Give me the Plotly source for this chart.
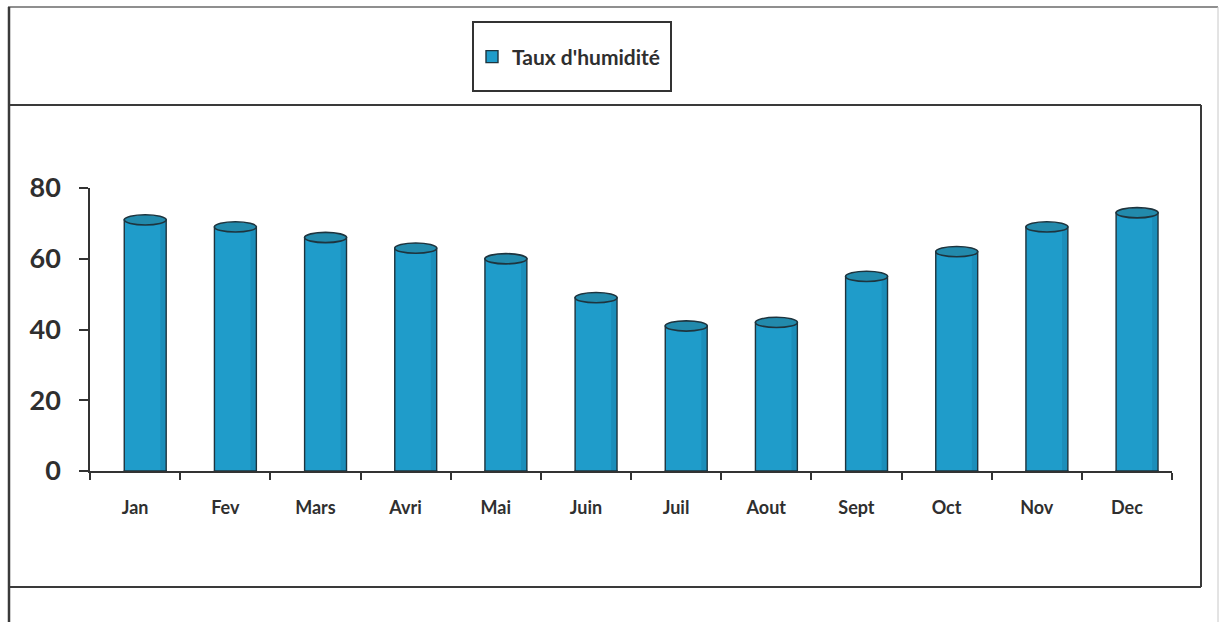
import plotly.graph_objects as go

# Monthly humidity rate (%)
months = ["Jan", "Fev", "Mars", "Avri", "Mai", "Juin", "Juil", "Aout", "Sept", "Oct", "Nov", "Dec"]
humidity = [71, 69, 66, 63, 60, 49, 41, 42, 55, 62, 69, 73]
y_ticks = [0, 20, 40, 60, 80]
series_name = "Taux d'humidité"

W, H = 1220, 622
BAR_W = 0.465          # cylinder width, in category units
BAR_OFF = -0.12        # cylinder shifted right of the category centre (3-D look)
CAP_H = 1.45           # half height of the top ellipse, in axis units
BASE_H = 0.9           # half height of the base ellipse

BODY = "rgb(31,156,202)"
CAP = "rgb(34,138,172)"
EDGE = "rgb(30,52,62)"
INK = "#2f2f2f"
FONT = "Lato"


def px(x):
    return x / W


def py(y):
    return 1 - y / H


fig = go.Figure()
# cylinder bodies
fig.add_trace(go.Bar(
    x=months, y=humidity, name=series_name,
    width=BAR_W, offset=BAR_OFF,
    marker=dict(color=BODY, line=dict(color=EDGE, width=1.4)),
    showlegend=True, cliponaxis=False,
))
# darker shading along the right side of each cylinder
fig.add_trace(go.Bar(
    x=months, y=humidity, name="shade",
    width=0.06, offset=BAR_OFF + BAR_W - 0.065,
    marker=dict(color="rgba(10,60,90,0.14)", line=dict(width=0)),
    showlegend=False, hoverinfo="skip", cliponaxis=False,
))

shapes = []
for i, v in enumerate(humidity):
    # rounded base under each cylinder
    shapes.append(dict(
        type="circle", xref="x", yref="y", layer="below",
        x0=i + BAR_OFF, x1=i + BAR_OFF + BAR_W,
        y0=-BASE_H, y1=BASE_H,
        fillcolor=BODY, line=dict(color=EDGE, width=1.4),
    ))
    # elliptical cap on top
    shapes.append(dict(
        type="circle", xref="x", yref="y", layer="above",
        x0=i + BAR_OFF, x1=i + BAR_OFF + BAR_W,
        y0=v - CAP_H, y1=v + CAP_H,
        fillcolor=CAP, line=dict(color=EDGE, width=1.6),
    ))


def seg(x0, y0, x1, y1, color="#3a3a3a", width=2):
    return dict(type="line", xref="paper", yref="paper", layer="above",
                x0=px(x0), y0=py(y0), x1=px(x1), y1=py(y1),
                line=dict(color=color, width=width))


# outer frame and chart-area box
shapes += [
    seg(8, 7, 1218, 7, "#6a6a6a", 1.5),
    seg(9, 7, 9, 622, "#3a3a3a", 2.5),
    seg(1218, 7, 1218, 622, "#c8c8c8", 1),
    seg(9, 105, 1201, 105),
    seg(1201, 105, 1201, 587),
    seg(9, 587, 1201, 587),
]
# legend box
shapes.append(dict(type="rect", xref="paper", yref="paper", layer="above",
                   x0=px(473), x1=px(671), y0=py(91), y1=py(22),
                   line=dict(color="#333333", width=2), fillcolor="rgba(0,0,0,0)"))

fig.update_layout(
    width=W, height=H,
    margin=dict(l=0, r=0, t=0, b=0, autoexpand=False),
    paper_bgcolor="white", plot_bgcolor="white",
    barmode="overlay",
    shapes=shapes,
    font=dict(family=FONT, color=INK),
    legend=dict(
        x=px(472), y=py(57), xanchor="left", yanchor="middle",
        font=dict(family=FONT, size=21, color=INK, weight="bold"),
        bgcolor="rgba(0,0,0,0)", borderwidth=0, itemwidth=30,
    ),
    xaxis=dict(
        domain=[px(90), px(1172)], automargin=False,
        showline=True, linecolor="#333333", linewidth=1.6,
        ticks="outside", tickson="boundaries", ticklen=7, tickwidth=1.6, tickcolor="#333333",
        tickfont=dict(family=FONT, size=18, color=INK, weight="bold"),
        ticklabelstandoff=20,
        showgrid=False, zeroline=False,
    ),
    yaxis=dict(
        domain=[py(471), py(188)], automargin=False,
        range=[0, 80], tickvals=y_ticks,
        showline=True, linecolor="#333333", linewidth=1.6,
        ticks="outside", ticklen=9, tickwidth=1.6, tickcolor="#333333",
        tickfont=dict(family=FONT, size=27, color=INK, weight="bold"),
        ticklabelstandoff=13,
        showgrid=False, zeroline=False,
    ),
)

fig.write_html("out.html")
